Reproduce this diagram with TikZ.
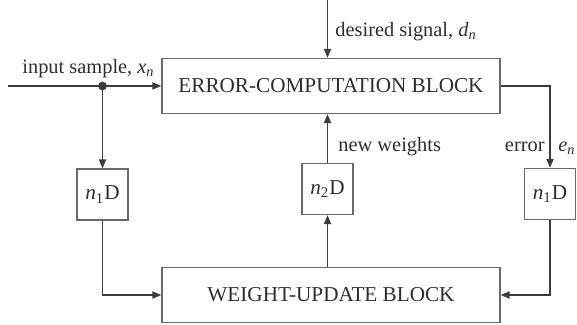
\documentclass[tikz,border=0pt]{standalone}
\usepackage{fontspec}
\setmainfont{Liberation Serif}
\usepackage[dvipsnames]{xcolor}
\usetikzlibrary{arrows.meta}
\definecolor{lineg}{HTML}{3C3C3C}
\definecolor{boxg}{HTML}{6A6A6A}
\definecolor{textg}{HTML}{2E2E2E}

\begin{document}
\begin{tikzpicture}[x=0.5pt,y=-0.5pt,
  sig/.style={line width=0.75pt,color=lineg,-{Triangle[length=4.5pt,width=3.6pt]}},
  wire/.style={line width=0.75pt,color=lineg},
  blockbox/.style={draw=boxg,line width=0.7pt,minimum width=169pt,minimum height=27.5pt,inner sep=0pt,text=textg,font=\fontsize{10.6}{12}\selectfont},
  delaybox/.style={draw=boxg,line width=0.7pt,minimum width=25.5pt,minimum height=25.5pt,inner sep=0pt,text=textg,font=\fontsize{10.6}{12}\selectfont},
  lbl/.style={inner sep=0pt,text=textg,font=\fontsize{10.2}{12}\selectfont}]
\useasboundingbox (0,0) rectangle (577,325);
% blocks
\node [blockbox] (errbox) at (331,86) {ERROR-COMPUTATION BLOCK};
\node [blockbox] (wubox) at (331,295) {WEIGHT-UPDATE BLOCK};
\node [delaybox] (d1) at (102.5,194.5) {\textit{n}\textsubscript{1}D};
\node [delaybox] (d2) at (327.5,189) {\textit{n}\textsubscript{2}D};
\node [delaybox] (d3) at (550,194) {\textit{n}\textsubscript{1}D};
% free ends
\coordinate (in) at (8,86);
\coordinate (tap) at (102.5,86);
\coordinate (dtop) at (327.5,0);
% connectors
\draw [sig] (in) -- (errbox.west);
\draw [sig] (tap) -- (d1.north);
\draw [fill=lineg,draw=none] (tap) circle (2.2pt);
\draw [sig] (dtop) -- (dtop |- errbox.north);
\draw [sig] (errbox.east) -| (d3.north);
\draw [sig] (d3.south) |- (wubox.east);
\draw [sig] (d1.south) |- (wubox.west);
\draw [sig] (wubox.north -| d2.south) -- (d2.south);
\draw [sig] (d2.north) -- (d2.north |- errbox.south);
% labels
\node [lbl,anchor=base west] (inlbl) at (22,74) {input sample, \textit{x}\textsubscript{\textit{n}}};
\node [lbl,anchor=base west] (dlbl) at (335,37) {desired signal, \textit{d}\textsubscript{\textit{n}}};
\node [lbl,anchor=base west] (wlbl) at (338,152) {new weights};
\node [lbl,anchor=base east] (elbl) at (545,152) {error};
\node [lbl,anchor=base west] (enlbl) at (558,152) {\textit{e}\textsubscript{\textit{n}}};
\end{tikzpicture}
\end{document}
